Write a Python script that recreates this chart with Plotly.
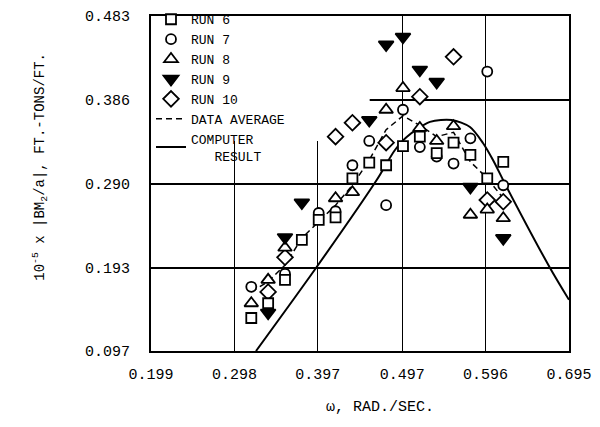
import plotly.graph_objects as go

# ---------------- data ----------------
omega = [0.318, 0.338, 0.358, 0.378, 0.398, 0.418, 0.438, 0.458,
         0.478, 0.498, 0.518, 0.538, 0.558, 0.578, 0.598, 0.617]

run6_x = omega
run6_y = [0.135, 0.152, 0.179, 0.225, 0.248, 0.251, 0.296, 0.314,
          0.311, 0.333, 0.344, 0.325, 0.337, 0.323, 0.296, 0.315]

run7_x = [0.318, 0.358, 0.398, 0.418, 0.438, 0.458, 0.478, 0.498,
          0.518, 0.538, 0.558, 0.578, 0.598, 0.617]
run7_y = [0.171, 0.186, 0.256, 0.258, 0.311, 0.339, 0.265, 0.375,
          0.332, 0.321, 0.313, 0.342, 0.419, 0.288]

run8_x = [0.318, 0.338, 0.358, 0.418, 0.438, 0.478, 0.498, 0.518,
          0.538, 0.558, 0.578, 0.598, 0.617]
run8_y = [0.152, 0.179, 0.216, 0.273, 0.280, 0.375, 0.400, 0.354,
          0.339, 0.356, 0.254, 0.260, 0.250]

run9_x = [0.338, 0.358, 0.378, 0.458, 0.478, 0.498, 0.518, 0.538,
          0.578, 0.617]
run9_y = [0.141, 0.228, 0.268, 0.363, 0.450, 0.459, 0.421, 0.407,
          0.286, 0.227]

run10_x = [0.338, 0.358, 0.418, 0.438, 0.478, 0.518, 0.558, 0.598, 0.617]
run10_y = [0.165, 0.205, 0.344, 0.360, 0.337, 0.390, 0.436, 0.271, 0.269]

avg_x = omega
avg_y = [0.165, 0.177, 0.196, 0.227, 0.246, 0.265, 0.288, 0.317,
         0.352, 0.368, 0.357, 0.344, 0.349, 0.315, 0.296, 0.273]

comp_x = [0.3236, 0.3956, 0.4668, 0.4885, 0.5024, 0.530, 0.5558,
          0.5775, 0.5929, 0.6048, 0.621, 0.6725, 0.695]
comp_y = [0.097, 0.1938, 0.294, 0.3286, 0.3436, 0.361, 0.3632,
          0.3551, 0.3367, 0.3171, 0.286, 0.1927, 0.156]

x_ticks = [0.199, 0.298, 0.397, 0.497, 0.596, 0.695]
x_ticklabels = ["0.199", "0.298", "0.397", "0.497", "0.596", "0.695"]
y_ticks = [0.097, 0.193, 0.290, 0.386, 0.483]
y_ticklabels = ["0.097", "0.193", "0.290", "0.386", "0.483"]

FONT = "Liberation Mono"

fig = go.Figure()

# lines
fig.add_trace(go.Scatter(x=avg_x, y=avg_y, mode="lines", name="DATA AVERAGE",
                         line=dict(color="black", width=1.5, dash="6px,4px"),
                         legendrank=6))
fig.add_trace(go.Scatter(x=comp_x, y=comp_y, mode="lines",
                         name="COMPUTER<br>   RESULT",
                         line=dict(color="black", width=2, shape="spline",
                                   smoothing=0.8),
                         legendrank=7))

def mk(symbol, size, fill="white"):
    return dict(symbol=symbol, size=size, color=fill,
                line=dict(color="black", width=1.8))

fig.add_trace(go.Scatter(x=run10_x, y=run10_y, mode="markers", name="RUN 10",
                         marker=mk("diamond", 12), legendrank=5))
fig.add_trace(go.Scatter(x=run7_x, y=run7_y, mode="markers", name="RUN 7",
                         marker=mk("circle", 10), legendrank=2))
fig.add_trace(go.Scatter(x=run8_x, y=run8_y, mode="markers", name="RUN 8",
                         marker=mk("triangle-up", 12), legendrank=3))
fig.add_trace(go.Scatter(x=run9_x, y=run9_y, mode="markers", name="RUN 9",
                         marker=mk("triangle-down", 13, fill="black"),
                         legendrank=4))
fig.add_trace(go.Scatter(x=run6_x, y=run6_y, mode="markers", name="RUN 6",
                         marker=mk("square", 10), legendrank=1))

# white area behind legend hiding the grid (between grid and traces)
fig.add_shape(type="rect", xref="x", yref="y", x0=0.199, x1=0.4585,
              y0=0.339, y1=0.483, fillcolor="white", line=dict(width=0),
              layer="between")

fig.update_layout(
    width=600, height=427,
    margin=dict(l=151, r=31, t=16, b=76, autoexpand=False),
    paper_bgcolor="white", plot_bgcolor="white",
    font=dict(family=FONT, color="black", size=14),
    showlegend=True,
    legend=dict(x=0.0, y=1.035, xanchor="left", yanchor="top",
                bgcolor="rgba(0,0,0,0)", borderwidth=0,
                font=dict(family=FONT, size=13, color="black"),
                tracegroupgap=0, itemwidth=30),
    xaxis=dict(range=[0.199, 0.695], tickmode="array", tickvals=x_ticks,
               ticktext=x_ticklabels, showgrid=True, gridcolor="black",
               gridwidth=1.2, showline=True, mirror=True, linecolor="black",
               linewidth=2, ticks="", zeroline=False, automargin=False,
               tickfont=dict(family=FONT, size=15), ticklabelstandoff=8),
    yaxis=dict(range=[0.097, 0.483], tickmode="array", tickvals=y_ticks,
               ticktext=y_ticklabels, showgrid=True, gridcolor="black",
               gridwidth=1.6, showline=True, mirror=True, linecolor="black",
               linewidth=2, ticks="", zeroline=False, automargin=False,
               tickfont=dict(family=FONT, size=15), ticklabelstandoff=16),
    annotations=[
        dict(text="10<sup>-5</sup> x |BM<sub>2</sub>/a|, FT.-TONS/FT.",
             xref="paper", yref="paper", x=-0.2656, y=0.55,
             xanchor="center", yanchor="middle", textangle=-90,
             showarrow=False, font=dict(family=FONT, size=14)),
        dict(text="ω, RAD./SEC.", xref="paper", yref="paper",
             x=0.548, y=-0.170, xanchor="center", yanchor="middle",
             showarrow=False, font=dict(family=FONT, size=15)),
    ],
)

fig.write_html("out.html")
